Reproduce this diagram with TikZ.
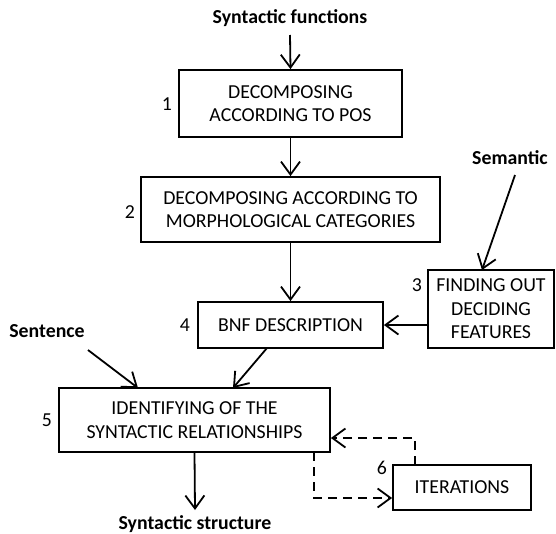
\documentclass[tikz,border=0pt]{standalone}
\usepackage{fontspec}
\setmainfont{Carlito}
\usetikzlibrary{arrows.meta}
\begin{document}
\begin{tikzpicture}[x=1pt,y=-1pt,
  box/.style={draw,line width=1.8pt,align=center,inner sep=0pt,
    font=\fontsize{19.8}{23.5}\selectfont},
  lbl/.style={font=\bfseries\fontsize{19.8}{23}\selectfont,inner sep=0pt},
  num/.style={font=\fontsize{19.8}{23}\selectfont,inner sep=0pt},
  arr/.style={line width=1.8pt,-{Straight Barb[length=13pt,width=19pt,line width=1.8pt]}},
  darr/.style={arr,dash pattern=on 9pt off 6pt}]
\useasboundingbox (0,0) rectangle (556,533);
% boxes
\node[box,minimum width=223pt,minimum height=67pt] (b1) at (290.5,103.5) {DECOMPOSING\\ACCORDING TO POS};
\node[box,minimum width=299pt,minimum height=65pt] (b2) at (290.5,209.5) {DECOMPOSING ACCORDING TO\\MORPHOLOGICAL CATEGORIES};
\node[box,minimum width=126pt,minimum height=78pt] (b3) at (491,309) {FINDING OUT\\DECIDING\\FEATURES};
\node[box,minimum width=185pt,minimum height=46pt] (b4) at (290.5,325) {BNF DESCRIPTION};
\node[box,minimum width=271pt,minimum height=64pt] (b5) at (194.5,420) {IDENTIFYING OF THE\\SYNTACTIC RELATIONSHIPS};
\node[box,minimum width=138pt,minimum height=45pt] (b6) at (462,487.5) {ITERATIONS};
% labels
\node[lbl] (sf) at (290,18) {Syntactic functions};
\node[lbl] (sem) at (510,158) {Semantic};
\node[lbl] (sen) at (47,331) {Sentence};
\node[lbl] (ss) at (195,524) {Syntactic structure};
% numbers
\node[num] (n1) at (167,104) {1};
\node[num] (n2) at (130,212) {2};
\node[num] (n3) at (417,285) {3};
\node[num] (n4) at (185,325) {4};
\node[num] (n5) at (47,420) {5};
\node[num] (n6) at (382,468) {6};
% connector endpoints
\coordinate (sfS) at (290,35);
\coordinate (semS) at (515,175);
\coordinate (b3in) at (482,270);
\coordinate (senS) at (88,350);
\coordinate (b5inA) at (138,388);
\coordinate (b4out) at (267,348);
\coordinate (b5inB) at (233,388);
\coordinate (ssN) at (195,510);
\coordinate (b6top) at (415,465);
\coordinate (b5out) at (314,452);
% arrows
\draw[arr] (sfS) -- (b1.north);
\draw[arr] (b1.south) -- (b2.north);
\draw[arr] (b2.south) -- (b4.north);
\draw[arr] (semS) -- (b3in);
\draw[arr] (b4.east -| b3.west) -- (b4.east);
\draw[arr] (senS) -- (b5inA);
\draw[arr] (b4out) -- (b5inB);
\draw[arr] (b5.south) -- (ssN);
\draw[darr] (b6top) |- (b5.east |- 0,438);
\draw[darr] (b5out) |- (b6.west |- 0,498);
\end{tikzpicture}
\end{document}
